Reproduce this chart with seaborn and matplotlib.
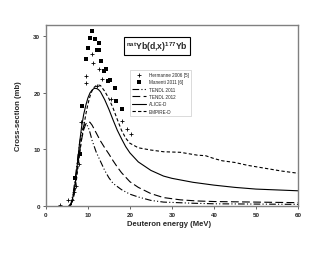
import pandas as pd
import matplotlib.pyplot as plt
import seaborn as sns

herm_e = [3.3, 5.3, 6.3, 6.7, 7.1, 7.9, 8.3, 9.5, 9.5, 10.9, 11.3, 12.2, 12.7, 13.3, 15.6, 18.0, 19.2, 20.2]
herm_s = [0.1, 1.1, 1.0, 2.4, 3.6, 7.4, 14.9, 21.8, 23.0, 26.9, 25.2, 21.3, 24.3, 22.4, 19.0, 15.0, 13.7, 12.8]

man_e = [6.9, 8.1, 8.6, 9.5, 10.1, 10.6, 10.9, 11.7, 12.1, 12.7, 12.7, 13.1, 13.9, 14.4, 14.8, 15.2, 16.4, 16.8, 18.0]
man_s = [4.9, 9.2, 17.7, 26.0, 28.0, 29.7, 31.0, 29.5, 27.6, 28.8, 27.5, 25.7, 23.9, 24.2, 22.1, 22.2, 20.8, 18.6, 17.1]

# model curves
tendl11_e = [5.5, 6, 6.5, 7, 7.5, 8, 8.5, 9, 9.5, 10, 10.5, 11, 12, 13, 14, 15, 16, 18, 20, 22, 25, 28, 35, 40, 50, 60]
tendl11_s = [0, 0.5, 2.3, 5, 8, 11, 13, 14.2, 14.5, 14.1, 13, 11.6, 9.5, 7.9, 6.3, 5.0, 4.0, 2.9, 2.1, 1.6, 1.0, 0.7, 0.5, 0.4, 0.35, 0.3]

tendl12_e = [5.5, 6, 6.5, 7, 7.5, 8, 8.5, 9, 9.5, 10, 10.5, 11, 12, 13, 14, 15, 16, 17, 18, 19, 20, 22, 25, 28, 32, 36, 40, 50, 60]
tendl12_s = [0, 0.3, 1.8, 4, 6.8, 9.5, 11.8, 13.5, 14.5, 14.9, 14.8, 14.3, 12.9, 11.5, 10.3, 9.2, 8.0, 6.9, 5.9, 5.1, 4.3, 3.3, 2.2, 1.5, 1.1, 0.9, 0.8, 0.7, 0.6]

alice_e = [5.5, 6, 6.5, 7, 7.5, 8, 8.5, 9, 9.5, 10, 10.5, 11, 11.5, 12, 12.5, 13, 14, 15, 16, 17, 18, 19, 20, 22, 25, 28, 30, 35, 40, 45, 50, 55, 60]
alice_s = [0, 0.3, 1.8, 4, 7.5, 11, 14, 16.2, 17.8, 19.1, 20.0, 20.5, 20.8, 20.8, 20.6, 20.2, 18.8, 17.1, 15.2, 13.4, 11.9, 10.5, 9.4, 7.8, 6.3, 5.3, 4.9, 4.2, 3.7, 3.3, 3.0, 2.85, 2.7]

empire_e = [5.5, 6, 6.5, 7, 7.5, 8, 8.5, 9, 9.5, 10, 10.5, 11, 11.5, 12, 12.5, 13, 14, 15, 16, 17, 18, 19, 20, 22, 25, 28, 32, 36, 38, 40, 42, 45, 48, 52, 56, 60]
empire_s = [0, 0.2, 1.2, 3, 6, 9, 11.8, 14, 16.2, 18, 19.4, 20.4, 21.0, 21.3, 21.4, 21.3, 20.3, 19.0, 17.3, 15.3, 13.4, 12.0, 11.1, 10.3, 9.9, 9.6, 9.5, 9.0, 8.9, 8.4, 8.0, 7.7, 7.2, 6.7, 6.2, 5.8]

curves = pd.concat([
    pd.DataFrame({'E': tendl11_e, 'xs': tendl11_s, 'model': 'TENDL 2011'}),
    pd.DataFrame({'E': tendl12_e, 'xs': tendl12_s, 'model': 'TENDL 2012'}),
    pd.DataFrame({'E': alice_e, 'xs': alice_s, 'model': 'ALICE-D'}),
    pd.DataFrame({'E': empire_e, 'xs': empire_s, 'model': 'EMPIRE-D'}),
])

sns.set_style('ticks')
plt.rcParams['font.family'] = ['Liberation Sans', 'DejaVu Sans']
plt.rcParams['mathtext.fontset'] = 'custom'
plt.rcParams['mathtext.bf'] = 'Liberation Sans:bold'

fig = plt.figure(figsize=(3.3, 2.55), dpi=100)
ax = fig.add_axes([0.139, 0.188, 0.764, 0.71])

ax.scatter(herm_e, herm_s, marker='+', s=6, lw=0.6, c='black', label='Hermanne 2006 [5]')
ax.scatter(man_e, man_s, marker='s', s=5, lw=0, c='black', label='Manenti 2011 [6]')

styles = {
    'TENDL 2011': (0, (6, 2, 1, 2, 1, 2)),
    'TENDL 2012': (0, (7, 3)),
    'ALICE-D': '-',
    'EMPIRE-D': (0, (3, 2)),
}
for name, ls in styles.items():
    sns.lineplot(data=curves[curves['model'] == name], x='E', y='xs', ax=ax,
                 color='black', lw=0.8, linestyle=ls, label=name)

ax.set_xlim(0, 60)
ax.set_ylim(0, 32)
ax.set_xticks([0, 10, 20, 30, 40, 50, 60])
ax.set_yticks([0, 10, 20, 30])
ax.tick_params(labelsize=4.5, length=2, width=0.5, pad=2)
for lbl in ax.get_xticklabels() + ax.get_yticklabels():
    lbl.set_fontweight('bold')
for sp in ax.spines.values():
    sp.set_color('#808080')
    sp.set_linewidth(1.0)

ax.set_xlabel('Deuteron energy (MeV)', fontsize=5.5, fontweight='bold')
ax.xaxis.set_label_coords(0.49, -0.075)
ax.set_ylabel('Cross-section (mb)', fontsize=5.5, fontweight='bold', labelpad=8)

ax.text(0.44, 0.885, r'$^{\mathbf{nat}}$Yb(d,x)$^{\mathbf{177}}$Yb', transform=ax.transAxes,
        fontsize=6.2, fontweight='bold', ha='center', va='center',
        bbox=dict(boxstyle='square,pad=0.25', fc='white', ec='black', lw=0.8))

leg = ax.legend(loc='upper left', bbox_to_anchor=(0.325, 0.765), fontsize=3.3,
                frameon=True, fancybox=False, edgecolor='#c0c0c0', handlelength=3,
                borderpad=0.5, labelspacing=0.5, handletextpad=0.6)
leg.get_frame().set_linewidth(0.5)

fig.savefig('out.png', dpi=100)
